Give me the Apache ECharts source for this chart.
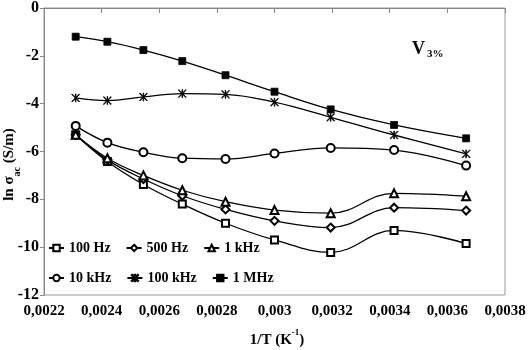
<!DOCTYPE html>
<html>
<head>
<meta charset="utf-8">
<script src="https://cdn.jsdelivr.net/npm/echarts@6/dist/echarts.min.js"></script>
<style>
  html, body { margin: 0; padding: 0; background: #fff; }
  #chart { width: 529px; height: 350px; }
</style>
</head>
<body>
<div id="chart"></div>
<script>
// 1/T values (K^-1)
const invT = [0.00231, 0.00242, 0.002545, 0.00268, 0.00283, 0.003, 0.003195, 0.003415, 0.003665];
const hz100 = [-5.3, -6.42, -7.38, -8.2, -9.0, -9.7, -10.22, -9.3, -9.85];
const hz500 = [-5.3, -6.35, -7.15, -7.85, -8.42, -8.9, -9.18, -8.35, -8.47];
const khz1 = [-5.3, -6.28, -7.0, -7.62, -8.1, -8.45, -8.58, -7.75, -7.87];
const khz10 = [-4.93, -5.63, -6.03, -6.28, -6.31, -6.08, -5.85, -5.94, -6.59];
const khz100 = [-3.76, -3.87, -3.72, -3.58, -3.61, -3.94, -4.57, -5.31, -6.1];
const mhz1 = [-1.2, -1.41, -1.76, -2.22, -2.81, -3.5, -4.24, -4.89, -5.45];

const font = '"Liberation Serif", "Times New Roman", serif';
const asterisk = 'path://M4.6,0L5.4,0L5.4,10L4.6,10Z M0.6,0L10,9.4L9.4,10L0,0.6Z M9.4,0L10,0.6L0.6,10L0,9.4Z';

const chartDom = echarts.init(document.getElementById('chart'));

const pairs = (ys) => invT.map((x, i) => [x, ys[i]]);
const mkSeries = (name, ys, symbol, size) => ({
  name: name,
  type: 'line',
  smooth: 0.4,
  data: pairs(ys),
  symbol: symbol,
  symbolSize: size,
  lineStyle: { color: '#000', width: 1.3 },
  itemStyle: { color: '#000', borderColor: '#000', borderWidth: 0.8 }
});

const legendText = { fontFamily: font, fontWeight: 'bold', fontSize: 14, color: '#000' };

chartDom.setOption({
  animation: false,
  title: {
    text: '{v|V}{s|3%}',
    left: 412,
    top: 40,
    padding: 0,
    textStyle: {
      rich: {
        v: { fontFamily: font, fontWeight: 'bold', fontSize: 18, color: '#000', verticalAlign: 'top', lineHeight: 20 },
        s: { fontFamily: font, fontWeight: 'bold', fontSize: 11, color: '#000', verticalAlign: 'bottom', lineHeight: 20, padding: [0, 0, 0, 2] }
      }
    }
  },
  legend: [
    {
      data: ['100 Hz', '500 Hz', '1 kHz'],
      left: 48,
      top: 241,
      padding: 0,
      itemWidth: 15,
      itemHeight: 8,
      itemGap: 15,
      textStyle: legendText
    },
    {
      data: ['10 kHz', '100 kHz', '1 MHz'],
      left: 48,
      top: 271,
      padding: 0,
      itemWidth: 15,
      itemHeight: 8,
      itemGap: 15,
      textStyle: legendText
    }
  ],
  grid: {
    left: 44,
    right: 24,
    top: 8,
    bottom: 55,
    outerBoundsMode: 'none',
    containLabel: false,
    show: true,
    borderColor: '#999',
    borderWidth: 1
  },
  xAxis: {
    type: 'value',
    min: 0.0022,
    max: 0.0038,
    interval: 0.0002,
    name: '{a|1/T (K}{b|-1}{a|)}',
    nameLocation: 'middle',
    nameGap: 33,
    nameMoveOverlap: false,
    nameTextStyle: {
      padding: [0, 0, 0, 5],
      rich: {
        a: { fontFamily: font, fontWeight: 'bold', fontSize: 15, color: '#000', verticalAlign: 'bottom', lineHeight: 20 },
        b: { fontFamily: font, fontWeight: 'bold', fontSize: 9, color: '#000', verticalAlign: 'top', lineHeight: 20 }
      }
    },
    axisLine: { lineStyle: { color: '#888', width: 1 } },
    axisTick: { show: true, length: 5, lineStyle: { color: '#888' } },
    splitLine: { show: false },
    axisLabel: {
      fontFamily: font,
      fontWeight: 'bold',
      fontSize: 15,
      color: '#000',
      margin: 9,
      formatter: (v) => parseFloat(v.toFixed(4)).toString().replace('.', ',')
    }
  },
  yAxis: {
    type: 'value',
    min: -12,
    max: 0,
    interval: 2,
    name: '{a|ln σ}{b|ac}{a| (S/m)}',
    nameLocation: 'middle',
    nameGap: 22,
    nameRotate: 90,
    nameMoveOverlap: false,
    nameTextStyle: {
      padding: [0, 26, 0, 0],
      rich: {
        a: { fontFamily: font, fontWeight: 'bold', fontSize: 15, color: '#000', verticalAlign: 'top', lineHeight: 20 },
        b: { fontFamily: font, fontWeight: 'bold', fontSize: 10, color: '#000', verticalAlign: 'bottom', lineHeight: 20 }
      }
    },
    axisLine: { show: true, lineStyle: { color: '#888', width: 1 } },
    axisTick: { show: true, length: 4, lineStyle: { color: '#888' } },
    splitLine: { show: false },
    axisLabel: {
      fontFamily: font,
      fontWeight: 'bold',
      fontSize: 16,
      color: '#000',
      margin: 5
    }
  },
  series: [
    mkSeries('100 Hz', hz100, 'emptyRect', 7),
    mkSeries('500 Hz', hz500, 'emptyDiamond', 8),
    mkSeries('1 kHz', khz1, 'emptyTriangle', 8),
    mkSeries('10 kHz', khz10, 'emptyCircle', 8),
    mkSeries('100 kHz', khz100, asterisk, 8),
    mkSeries('1 MHz', mhz1, 'rect', 7)
  ]
});
</script>
</body>
</html>
